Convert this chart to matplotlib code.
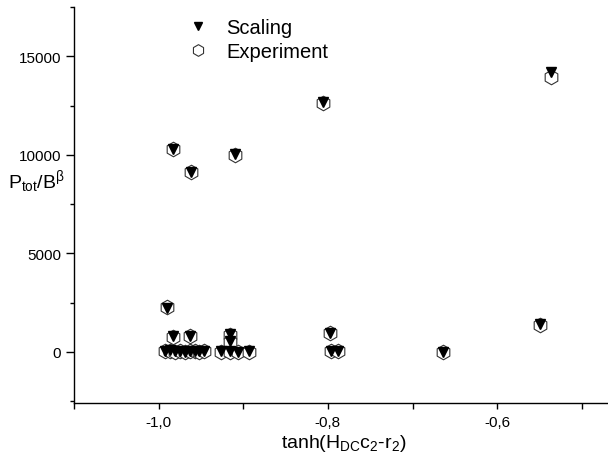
import matplotlib
matplotlib.use("Agg")
import matplotlib.pyplot as plt
from matplotlib.ticker import FixedLocator, FixedFormatter, MultipleLocator

plt.rcParams['font.family'] = ['Liberation Sans', 'DejaVu Sans']
plt.rcParams['mathtext.fontset'] = 'custom'
plt.rcParams['mathtext.rm'] = 'Liberation Sans'
plt.rcParams['mathtext.it'] = 'Liberation Sans'

# data (x = tanh(H_DC c2 - r2))
x_vals = [-0.990, -0.983, -0.962, -0.910, -0.806, -0.536, -0.549, -0.664,
          -0.798, -0.796, -0.788, -0.983, -0.963,
          -0.993, -0.987, -0.981, -0.975, -0.969, -0.963, -0.957, -0.952, -0.946,
          -0.926, -0.916, -0.906, -0.916, -0.916, -0.893]
scaling = [2200, 10300, 9150, 10050, 12700, 14200, 1400, 10,
           950, 60, 30, 780, 820,
           40, 80, 20, 60, 10, 30, 50, 20, 40,
           20, 30, 10, 880, 550, 20]
experiment = [2250, 10300, 9100, 10000, 12650, 13950, 1370, 0,
              950, 30, 20, 760, 800,
              20, 60, 0, 40, 0, 20, 30, 0, 20,
              0, 10, 0, 860, 520, 0]

x_ticks = [-1.0, -0.8, -0.6]
x_ticklabels = ['-1,0', '-0,8', '-0,6']
y_ticks = [0, 5000, 10000, 15000]
y_ticklabels = ['0', '5000', '10000', '15000']

fig = plt.figure(figsize=(6.08, 4.64), dpi=100)
ax = fig.add_axes([74/608, 1 - 404/464, 1 - 74/608, (404 - 8)/464])

ax.plot(x_vals, experiment, linestyle='none', marker='h', markersize=10.5,
        markerfacecolor='white', markeredgecolor='#333333', markeredgewidth=0.8,
        label='Experiment', zorder=2)
ax.plot(x_vals, scaling, linestyle='none', marker='v', markersize=6.5,
        color='black', label='Scaling', zorder=3)

ax.set_xlim(-1.1, -0.469)
ax.set_ylim(-2600, 17500)

for s in ['top', 'right']:
    ax.spines[s].set_visible(False)
for s in ['left', 'bottom']:
    ax.spines[s].set_linewidth(1.0)

ax.xaxis.set_major_locator(FixedLocator(x_ticks))
ax.xaxis.set_major_formatter(FixedFormatter(x_ticklabels))
ax.xaxis.set_minor_locator(MultipleLocator(0.1))
ax.yaxis.set_major_locator(FixedLocator(y_ticks))
ax.yaxis.set_major_formatter(FixedFormatter(y_ticklabels))
ax.yaxis.set_minor_locator(MultipleLocator(2500))
ax.tick_params(axis='y', which='major', direction='out', length=5.8, width=1.0,
               labelsize=11, pad=3.6)
ax.tick_params(axis='y', which='minor', direction='out', length=3, width=1.0)
ax.tick_params(axis='x', which='major', direction='out', length=4, width=1.0,
               labelsize=11, pad=5)
ax.tick_params(axis='x', which='minor', direction='out', length=4, width=1.0)

fig.text(36/608, 1 - 182/464, r'$\mathrm{P_{tot}/B^{\beta}}$', fontsize=14,
         ha='center', va='center')
fig.text(344/608, 1 - 444/464, r'$\mathrm{tanh(H_{DC}c_{2}\text{-}r_{2})}$', fontsize=14,
         ha='center', va='center')

handles, labels = ax.get_legend_handles_labels()
leg = fig.legend([handles[1], handles[0]], [labels[1], labels[0]],
                 loc='upper left', bbox_to_anchor=(170/608, 1 - 3/464),
                 frameon=False, fontsize=14.5, handletextpad=0.8, labelspacing=0.25,
                 handlelength=1.2, markerscale=0.8, borderpad=0.3)

fig.savefig('out.png', dpi=100)
